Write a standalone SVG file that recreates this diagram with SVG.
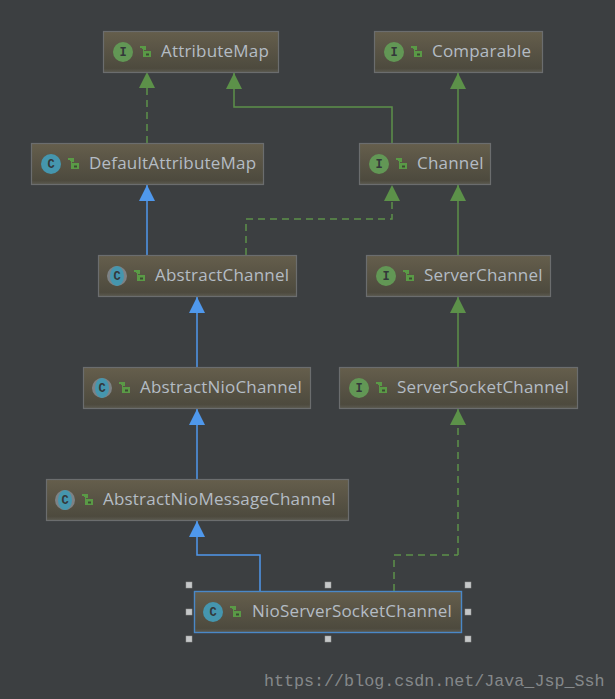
<svg xmlns="http://www.w3.org/2000/svg" xmlns:xlink="http://www.w3.org/1999/xlink" width="615" height="699" viewBox="0 0 615 699">
<style>
.box{fill:url(#nodeFill);stroke:#6b6d6e;stroke-width:1.2}
.sel{fill:url(#nodeFill);stroke:#4a88c7;stroke-width:1.4}
.label{font-family:"Open Sans","DejaVu Sans",sans-serif;font-size:17px;fill:#b4bcc4;letter-spacing:.2px}
.glyph{font-family:"Liberation Mono",monospace;font-size:12px;font-weight:bold;fill:#33383a;text-anchor:middle}
.edge{fill:none;stroke-width:1.5}
.g{stroke:#5c9149}
.b{stroke:#4f98ec}
.d{stroke-dasharray:7 5}
.iface{fill:#629755}
.cls{fill:#4596ae}
.handle{fill:#c5c7c8;stroke:#9a9c9d;stroke-width:.5}
.wm{font-family:"Liberation Mono","DejaVu Sans Mono",monospace;font-size:16.7px;fill:#85888a}
</style>
<defs>
<linearGradient id="nodeFill" x1="0" y1="0" x2="0" y2="1">
<stop offset="0" stop-color="#655e4c"/><stop offset="0.9" stop-color="#4d4a3e"/><stop offset="1" stop-color="#5c5a50"/>
</linearGradient>
<marker id="ag" markerUnits="userSpaceOnUse" markerWidth="17" markerHeight="17" refX="16" refY="8" orient="auto"><path d="M0 0L16 8L0 16Z" fill="#5c9149"/></marker>
<marker id="ab" markerUnits="userSpaceOnUse" markerWidth="17" markerHeight="17" refX="16" refY="8" orient="auto"><path d="M0 0L16 8L0 16Z" fill="#4f98ec"/></marker>
<g id="lock"><path d="M0 0H6V4H4V5H11V11H3V3H2V2H0Z" fill="#5a9a46"/><rect x="6" y="7.500" width="3" height="2" fill="#3c4a32"/></g>
</defs>
<rect width="615" height="699" fill="#3c3f41"/>
<g id="connectors">
<path class="edge g d" marker-end="url(#ag)" d="M147 143V72"/>
<path class="edge g" marker-end="url(#ag)" d="M392 143V107H234V73"/>
<path class="edge g" marker-end="url(#ag)" d="M458 143V73"/>
<path class="edge b" marker-end="url(#ab)" d="M147 255V185"/>
<path class="edge g d" marker-end="url(#ag)" d="M246 255V219H392V185"/>
<path class="edge g" marker-end="url(#ag)" d="M458 255V185"/>
<path class="edge b" marker-end="url(#ab)" d="M197 367V297"/>
<path class="edge g" marker-end="url(#ag)" d="M458 367V297"/>
<path class="edge b" marker-end="url(#ab)" d="M197 479V409"/>
<path class="edge g d" marker-end="url(#ag)" d="M458 555V409"/>
<path class="edge g d" d="M394 591V555H458"/>
<path class="edge b" marker-end="url(#ab)" d="M260 591V555H197V521"/>
</g>
<g id="AttributeMap"><rect class="box" x="103.500" y="31.500" width="175" height="41"/><circle class="iface" cx="123" cy="52" r="10"/><text class="glyph" x="123" y="56">I</text><use xlink:href="#lock" x="140" y="46"/><text class="label" x="161" y="57">AttributeMap</text></g>
<g id="Comparable"><rect class="box" x="374.500" y="31.500" width="168" height="41"/><circle class="iface" cx="394" cy="52" r="10"/><text class="glyph" x="394" y="56">I</text><use xlink:href="#lock" x="411" y="46"/><text class="label" x="432" y="57">Comparable</text></g>
<g id="DefaultAttributeMap"><rect class="box" x="31.500" y="143.500" width="232" height="41"/><circle class="cls" cx="51" cy="164" r="10"/><text class="glyph" x="51" y="168">C</text><use xlink:href="#lock" x="68" y="158"/><text class="label" x="89" y="169">DefaultAttributeMap</text></g>
<g id="Channel"><rect class="box" x="359.500" y="143.500" width="131" height="41"/><circle class="iface" cx="379" cy="164" r="10"/><text class="glyph" x="379" y="168">I</text><use xlink:href="#lock" x="396" y="158"/><text class="label" x="417" y="169">Channel</text></g>
<g id="AbstractChannel"><rect class="box" x="98.500" y="255.500" width="198" height="41"/><circle cx="117" cy="276" r="10" fill="#7d8285"/><ellipse class="cls" cx="117" cy="276" rx="7" ry="10"/><text class="glyph" x="117" y="280">C</text><use xlink:href="#lock" x="134" y="270"/><text class="label" x="155" y="281">AbstractChannel</text></g>
<g id="ServerChannel"><rect class="box" x="366.500" y="255.500" width="184" height="41"/><circle class="iface" cx="386" cy="276" r="10"/><text class="glyph" x="386" y="280">I</text><use xlink:href="#lock" x="403" y="270"/><text class="label" x="424" y="281">ServerChannel</text></g>
<g id="AbstractNioChannel"><rect class="box" x="83.500" y="367.500" width="227" height="41"/><circle cx="102" cy="388" r="10" fill="#7d8285"/><ellipse class="cls" cx="102" cy="388" rx="7" ry="10"/><text class="glyph" x="102" y="392">C</text><use xlink:href="#lock" x="119" y="382"/><text class="label" x="140" y="393">AbstractNioChannel</text></g>
<g id="ServerSocketChannel"><rect class="box" x="339.500" y="367.500" width="238" height="41"/><circle class="iface" cx="359" cy="388" r="10"/><text class="glyph" x="359" y="392">I</text><use xlink:href="#lock" x="376" y="382"/><text class="label" x="397" y="393">ServerSocketChannel</text></g>
<g id="AbstractNioMessageChannel"><rect class="box" x="46.500" y="479.500" width="302" height="41"/><circle cx="65" cy="500" r="10" fill="#7d8285"/><ellipse class="cls" cx="65" cy="500" rx="7" ry="10"/><text class="glyph" x="65" y="504">C</text><use xlink:href="#lock" x="82" y="494"/><text class="label" x="103" y="505">AbstractNioMessageChannel</text></g>
<g id="NioServerSocketChannel"><rect class="sel" x="194.500" y="591.500" width="267" height="41"/><circle class="cls" cx="213" cy="612" r="10"/><text class="glyph" x="213" y="616">C</text><use xlink:href="#lock" x="230" y="606"/><text class="label" x="252" y="617">NioServerSocketChannel</text>
<rect class="handle" x="186" y="582" width="6" height="6"/><rect class="handle" x="325" y="582" width="6" height="6"/><rect class="handle" x="465" y="582" width="6" height="6"/><rect class="handle" x="186" y="609" width="6" height="6"/><rect class="handle" x="465" y="609" width="6" height="6"/><rect class="handle" x="186" y="636" width="6" height="6"/><rect class="handle" x="325" y="636" width="6" height="6"/><rect class="handle" x="465" y="636" width="6" height="6"/></g>
<text class="wm" x="264" y="686">https://blog.csdn.net/Java_Jsp_Ssh</text>
</svg>
